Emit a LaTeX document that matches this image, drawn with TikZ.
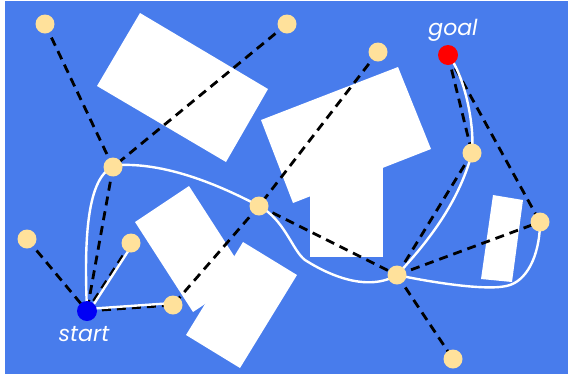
\documentclass[tikz,border=0pt]{standalone}
\usepackage{fontspec}
\newfontfamily\labfont{Poppins}
\definecolor{bgblue}{HTML}{487CEC}
\definecolor{nodey}{HTML}{FFE19B}
\definecolor{startblue}{HTML}{0000F5}
\definecolor{goalred}{HTML}{FF0000}
\pgfdeclarelayer{bg}
\pgfsetlayers{bg,main}
\begin{document}
\begin{tikzpicture}[x=1pt,y=-1pt,
  pt/.style={circle,fill=nodey,inner sep=0pt,minimum size=19pt},
  endpt/.style={circle,inner sep=0pt,minimum size=20pt},
  dashedge/.style={draw=black,line width=2.8pt,dash pattern=on 9pt off 6pt},
  route/.style={draw=white,line width=2.4pt},
  obst/.style={fill=white},
  lab/.style={text=white,font=\labfont\itshape\fontsize{22}{26}\selectfont,inner sep=0pt}]
\useasboundingbox (0,0) rectangle (569,376);
% nodes
\node[pt] (a) at (45,24) {};
\node[pt] (b) at (287,24) {};
\node[pt] (c) at (378,52) {};
\node[endpt,fill=goalred] (goal) at (448,55) {};
\node[pt] (n1) at (113,167) {};
\node[pt] (n2) at (259,206) {};
\node[pt] (n3) at (472,153) {};
\node[pt] (n4) at (540,222) {};
\node[pt] (n5) at (27,239) {};
\node[pt] (n6) at (131,243) {};
\node[endpt,fill=startblue] (s) at (87,311) {};
\node[pt] (n7) at (173,305) {};
\node[pt] (n8) at (397,275) {};
\node[pt] (n9) at (453,359) {};
\node[lab] (goallab) at (453,30) {goal};
\node[lab] (startlab) at (84,334) {start};
\begin{pgfonlayer}{bg}
\fill[white] (0,0) rectangle (569,376);
\fill[bgblue] (5,1) rectangle (568,374);
% obstacles
\fill[obst] (140,13) -- (268,89) -- (226,162) -- (97,86) -- cycle;
\fill[obst] (261,120) -- (398,67) -- (431,149) -- (293,203) -- cycle;
\fill[obst] (310,160) rectangle (383,257);
\fill[obst] (135,222) -- (189,186) -- (247,276) -- (193,312) -- cycle;
\fill[obst] (243,242) -- (297,275) -- (240,368) -- (186,335) -- cycle;
\fill[obst] (493,195) -- (523,200) -- (512,282) -- (481,279) -- cycle;
% roadmap edges
\draw[dashedge] (a.center) -- (n1.center);
\draw[dashedge] (b.center) -- (n1.center);
\draw[dashedge] (c.center) -- (n2.center);
\draw[dashedge] (n2.center) -- (n7.center);
\draw[dashedge] (n1.center) -- (s.center);
\draw[dashedge] (n5.center) -- (s.center);
\draw[dashedge] (n6.center) -- (s.center);
\draw[dashedge] (s.center) -- (n7.center);
\draw[dashedge] (n2.center) -- (n8.center);
\draw[dashedge] (n8.center) -- (n3.center);
\draw[dashedge] (n8.center) -- (n4.center);
\draw[dashedge] (n8.center) -- (n9.center);
\draw[dashedge] (goal.center) -- (n3.center);
\draw[dashedge] (goal.center) -- (n4.center);
% white paths
\draw[route] (s.center) .. controls (84,240) and (86,168) .. (120,165)
  .. controls (170,163) and (225,188) .. (n2.center)
  .. controls (285,220) and (292,250) .. (305,260)
  .. controls (330,276) and (368,292) .. (n8.center);
\draw[route] (n8.center) .. controls (430,282) and (490,292) .. (510,285)
  .. controls (530,278) and (540,250) .. (n4.center);
\draw[route] (n8.center) .. controls (425,245) and (458,205) .. (n3.center)
  .. controls (475,120) and (462,70) .. (goal.center);
\draw[route] ([shift={(1.7,1.1)}]s.center) -- ([shift={(1.7,1.1)}]n6.center);
\draw[route] ([shift={(0,-2)}]s.center) -- ([shift={(0,-2)}]n7.center);
\end{pgfonlayer}
\end{tikzpicture}
\end{document}
